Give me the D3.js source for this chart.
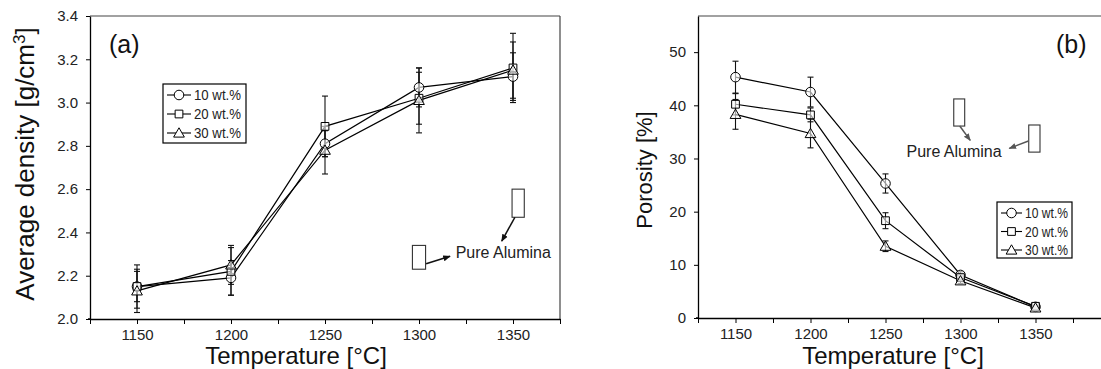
<!DOCTYPE html>
<html>
<head>
<meta charset="utf-8">
<script src="https://cdn.jsdelivr.net/npm/d3@7"></script>
<style>
  body { margin: 0; background: #fff; }
  svg { display: block; font-family: "Liberation Sans", Arial, sans-serif; }
</style>
</head>
<body>
<svg id="chart" width="1101" height="369"></svg>
<script>
// temperatures [°C]
const temps = [1150, 1200, 1250, 1300, 1350];
const seriesNames = ['10 wt.%', '20 wt.%', '30 wt.%'];

// (a) average density [g/cm3] and error
const density10 = [2.15, 2.19, 2.81, 3.07, 3.12];
const density20 = [2.15, 2.22, 2.89, 3.02, 3.16];
const density30 = [2.13, 2.25, 2.78, 3.01, 3.15];
const densityErr10 = [0.10, 0.08, 0.06, 0.09, 0.11];
const densityErr20 = [0.07, 0.11, 0.14, 0.12, 0.16];
const densityErr30 = [0.10, 0.09, 0.11, 0.15, 0.13];

// (b) porosity [%] and error
const porosity10 = [45.3, 42.5, 25.3, 8.1, 2.1];
const porosity20 = [40.2, 38.2, 18.3, 7.6, 2.2];
const porosity30 = [38.3, 34.7, 13.5, 7.0, 1.9];
const porosityErr10 = [3.0, 2.8, 1.8, 0.6, 0.3];
const porosityErr20 = [2.0, 1.3, 1.5, 0.5, 0.3];
const porosityErr30 = [2.8, 2.7, 1.0, 0.5, 0.3];

const xTicks = [1125, 1150, 1175, 1200, 1225, 1250, 1275, 1300, 1325, 1350, 1375, 1400];
const densityTicks = [2.0, 2.2, 2.4, 2.6, 2.8, 3.0, 3.2, 3.4];
const porosityTicks = [0, 10, 20, 30, 40, 50];

const symbols = [d3.symbolCircle, d3.symbolSquare, d3.symbolTriangle];
const symbolSizes = [72, 60, 50];

const svg = d3.select('#chart');

function drawPanel(cfg) {
  const g = svg.append('g');
  const x = d3.scaleLinear().domain(cfg.xDomain).range(cfg.xRange);
  const y = d3.scaleLinear().domain(cfg.yDomain).range(cfg.yRange);

  // frame
  g.append('line')
    .attr('x1', cfg.xRange[0]).attr('x2', cfg.frameRight)
    .attr('y1', cfg.yRange[1]).attr('y2', cfg.yRange[1])
    .attr('stroke', '#444').attr('stroke-width', 1.2);
  if (cfg.closeRight) {
    g.append('line')
      .attr('x1', cfg.frameRight).attr('x2', cfg.frameRight)
      .attr('y1', cfg.yRange[1]).attr('y2', cfg.yRange[0])
      .attr('stroke', '#444').attr('stroke-width', 1.2);
  }

  // x axis
  const xAxis = g.append('g')
    .attr('transform', `translate(0,${cfg.yRange[0]})`)
    .call(d3.axisBottom(x)
      .tickValues(xTicks.filter(t => t <= cfg.xDomain[1]))
      .tickSize(5).tickPadding(5).tickSizeOuter(0)
      .tickFormat(d => (d % 50 === 0 && d >= 1150 && d <= 1350) ? d : ''));
  // y axis
  const yAxis = g.append('g')
    .attr('transform', `translate(${cfg.xRange[0]},0)`)
    .call(d3.axisLeft(y)
      .tickValues(cfg.yTicks)
      .tickSize(4).tickPadding(8).tickSizeOuter(0)
      .tickFormat(cfg.yFormat));
  [xAxis, yAxis].forEach(a => {
    a.select('.domain').attr('stroke', '#000').attr('stroke-width', 1.3);
    a.selectAll('.tick line').attr('stroke', '#000');
    a.selectAll('text').attr('font-size', 15).attr('fill', '#222')
      .attr('font-family', '"Liberation Sans", Arial, sans-serif');
  });
  // extend bottom axis a bit left like the original
  g.append('line')
    .attr('x1', cfg.xRange[0] - 2).attr('x2', cfg.xRange[0])
    .attr('y1', cfg.yRange[0]).attr('y2', cfg.yRange[0])
    .attr('stroke', '#000').attr('stroke-width', 1.3);

  // series
  cfg.series.forEach((s, i) => {
    const pts = temps.map((t, j) => ({ t, v: s.values[j], e: s.errors[j] }));
    // error bars
    const eb = g.append('g').attr('stroke', '#111').attr('stroke-width', 1.1);
    pts.forEach(p => {
      eb.append('line')
        .attr('x1', x(p.t)).attr('x2', x(p.t))
        .attr('y1', y(p.v - p.e)).attr('y2', y(p.v + p.e));
      [p.v - p.e, p.v + p.e].forEach(v => {
        eb.append('line')
          .attr('x1', x(p.t) - 3).attr('x2', x(p.t) + 3)
          .attr('y1', y(v)).attr('y2', y(v));
      });
    });
    g.append('path')
      .datum(pts)
      .attr('fill', 'none').attr('stroke', '#000').attr('stroke-width', 1.2)
      .attr('d', d3.line().x(d => x(d.t)).y(d => y(d.v)));
  });
  cfg.series.forEach((s, i) => {
    g.selectAll(null)
      .data(temps.map((t, j) => ({ t, v: s.values[j] })))
      .enter().append('path')
      .attr('transform', d => `translate(${x(d.t)},${y(d.v) + (i === 2 ? 1 : 0)})`)
      .attr('d', d3.symbol().type(symbols[i]).size(symbolSizes[i]))
      .attr('fill', '#fff').attr('fill-opacity', 0.6)
      .attr('stroke', '#000').attr('stroke-width', 1);
  });

  // legend
  const lg = g.append('g').attr('transform', `translate(${cfg.legend.x},${cfg.legend.y})`);
  lg.append('rect')
    .attr('width', cfg.legend.w).attr('height', cfg.legend.h)
    .attr('fill', '#fff').attr('stroke', '#000').attr('stroke-width', 1.2);
  seriesNames.forEach((name, i) => {
    const ry = 11 + i * cfg.legend.step;
    lg.append('line').attr('x1', 4).attr('x2', cfg.legend.lineEnd).attr('y1', ry).attr('y2', ry)
      .attr('stroke', '#000').attr('stroke-width', 1.1);
    lg.append('path')
      .attr('transform', `translate(${cfg.legend.lineEnd / 2 + 2},${ry + (i === 2 ? 1 : 0)})`)
      .attr('d', d3.symbol().type(symbols[i]).size(symbolSizes[i]))
      .attr('fill', '#fff').attr('stroke', '#000');
    lg.append('text').attr('x', cfg.legend.lineEnd + 3).attr('y', ry + 5)
      .attr('font-size', cfg.legend.font).attr('fill', '#222')
      .attr('textLength', cfg.legend.textLen).attr('lengthAdjust', 'spacingAndGlyphs')
      .text(name);
  });

  // panel tag
  g.append('text').attr('x', cfg.tag.x).attr('y', cfg.tag.y)
    .attr('font-size', 25).attr('fill', '#111').text(cfg.tag.text);

  // pure alumina annotation
  const an = cfg.annot;
  const ag = g.append('g');
  an.rects.forEach(r => {
    ag.append('rect')
      .attr('x', x(r[0])).attr('y', y(r[1]))
      .attr('width', x(r[2]) - x(r[0])).attr('height', y(r[3]) - y(r[1]))
      .attr('fill', '#fff').attr('stroke', '#333').attr('stroke-width', 1.1);
  });
  an.arrows.forEach(a => {
    ag.append('line')
      .attr('x1', x(a[0])).attr('y1', y(a[1]))
      .attr('x2', x(a[2])).attr('y2', y(a[3]))
      .attr('stroke', an.arrowColor).attr('stroke-width', 1.5)
      .attr('marker-end', `url(#${an.marker})`);
  });
  ag.append('text').attr('x', x(an.text[0])).attr('y', y(an.text[1]))
    .attr('font-size', 16).attr('fill', '#222').text('Pure Alumina');

  // axis titles
  g.append('text')
    .attr('x', cfg.xTitle.x).attr('y', 364)
    .attr('text-anchor', 'middle').attr('font-size', 24).attr('fill', '#111')
    .text('Temperature [°C]');
  const yt = g.append('text')
    .attr('transform', `translate(${cfg.yTitle.x},${cfg.yTitle.y}) rotate(-90)`)
    .attr('text-anchor', 'middle').attr('font-size', cfg.yTitle.font).attr('fill', '#111');
  yt.append('tspan').text(cfg.yTitle.text);
  if (cfg.yTitle.sup) {
    yt.append('tspan').attr('dy', -9).attr('font-size', 17).text(cfg.yTitle.sup);
    yt.append('tspan').attr('dy', 9).text(']');
  }
}

const defs = svg.append('defs');
[['arrowDark', '#111'], ['arrowGray', '#555']].forEach(([id, c]) => {
  defs.append('marker').attr('id', id)
    .attr('viewBox', '0 0 10 10').attr('refX', 9).attr('refY', 5)
    .attr('markerWidth', 5).attr('markerHeight', 5)
    .attr('orient', 'auto')
    .append('path').attr('d', 'M0,1 L10,5 L0,9 Z').attr('fill', c);
});

drawPanel({
  xDomain: [1125, 1375], xRange: [90, 560],
  yDomain: [2.0, 3.4], yRange: [319, 16],
  frameRight: 560, closeRight: true,
  yTicks: densityTicks, yFormat: d3.format('.1f'),
  series: [
    { values: density10, errors: densityErr10 },
    { values: density20, errors: densityErr20 },
    { values: density30, errors: densityErr30 }
  ],
  legend: { x: 163, y: 84, w: 83, h: 59, step: 19, lineEnd: 28, font: 14, textLen: 47 },
  tag: { x: 109, y: 53, text: '(a)' },
  annot: {
    rects: [[1296.5, 2.34, 1303.5, 2.23], [1349.5, 2.60, 1356, 2.47]],
    arrows: [[1303.8, 2.255, 1316.5, 2.29], [1351, 2.47, 1344, 2.36]],
    text: [1319.5, 2.28],
    arrowColor: '#111', marker: 'arrowDark'
  },
  xTitle: { x: 296 },
  yTitle: { x: 34, y: 164, text: 'Average density [g/cm', sup: '3', font: 26 }
});

drawPanel({
  xDomain: [1125, 1400], xRange: [698, 1110.5],
  yDomain: [0, 56.8], yRange: [318, 16],
  frameRight: 1101, closeRight: false,
  yTicks: porosityTicks, yFormat: d3.format('d'),
  series: [
    { values: porosity10, errors: porosityErr10 },
    { values: porosity20, errors: porosityErr20 },
    { values: porosity30, errors: porosityErr30 }
  ],
  legend: { x: 997, y: 202, w: 75, h: 56, step: 18.5, lineEnd: 25, font: 14, textLen: 43 },
  tag: { x: 1056, y: 53, text: '(b)' },
  annot: {
    rects: [[1295.5, 41.2, 1302.8, 36.1], [1345.5, 36.3, 1353, 31.2]],
    arrows: [[1299.5, 36.1, 1306.5, 33.4], [1345.3, 33.3, 1332.5, 31.9]],
    text: [1264, 30.3],
    arrowColor: '#555', marker: 'arrowGray'
  },
  xTitle: { x: 893 },
  yTitle: { x: 652, y: 170, font: 22, text: 'Porosity [%]' }
});
</script>
</body>
</html>
